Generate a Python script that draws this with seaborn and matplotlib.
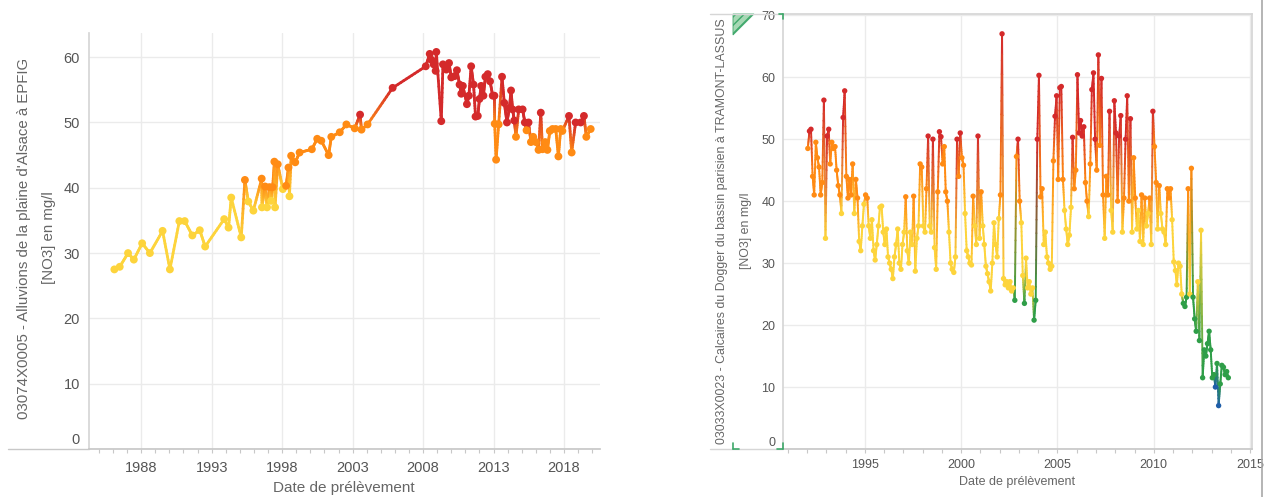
import numpy as np
import pandas as pd
import matplotlib
matplotlib.use("Agg")
import matplotlib.pyplot as plt
import seaborn as sns
from matplotlib.collections import LineCollection
from matplotlib.colors import to_rgb
from matplotlib.lines import Line2D
from matplotlib.patches import Polygon
from matplotlib.ticker import MultipleLocator
from matplotlib.transforms import ScaledTranslation

# station 03074X0005 (EPFIG) : date de prélèvement (année décimale) et [NO3] en mg/l
epfig_annee = [
    1986.10, 1986.48, 1987.07, 1987.48, 1988.07, 1988.62, 1989.52, 1990.04, 1990.71, 1991.09,
    1991.63, 1992.16, 1992.54, 1993.89, 1994.20, 1994.39, 1995.10, 1995.36, 1995.60, 1995.96,
    1996.55, 1996.57, 1996.79, 1996.93, 1997.10, 1997.22, 1997.33, 1997.45, 1997.50, 1997.69,
    1998.05, 1998.28, 1998.45, 1998.52, 1998.64, 1998.93, 1999.24, 2000.11, 2000.49, 2000.78,
    2001.30, 2001.49, 2002.09, 2002.56, 2003.15, 2003.53, 2003.63, 2004.06, 2005.84, 2008.19,
    2008.47, 2008.59, 2008.75, 2008.89, 2008.94, 2009.29, 2009.41, 2009.65, 2009.84, 2010.00,
    2010.24, 2010.40, 2010.59, 2010.71, 2010.82, 2011.11, 2011.25, 2011.41, 2011.58, 2011.72,
    2011.88, 2012.00, 2012.12, 2012.28, 2012.42, 2012.59, 2012.75, 2012.94, 2013.06, 2013.08,
    2013.18, 2013.36, 2013.60, 2013.76, 2013.95, 2014.12, 2014.24, 2014.35, 2014.47, 2014.59,
    2014.78, 2015.06, 2015.22, 2015.34, 2015.48, 2015.65, 2015.81, 2016.00, 2016.19, 2016.35,
    2016.47, 2016.66, 2016.82, 2016.99, 2017.18, 2017.41, 2017.60, 2017.76, 2017.88, 2018.35,
    2018.54, 2018.82, 2019.18, 2019.41, 2019.58, 2019.89,
]
epfig_no3 = [
    27.5, 27.9, 30.0, 29.0, 31.5, 30.0, 33.4, 27.5, 34.9, 34.9,
    32.7, 33.5, 31.0, 35.2, 33.9, 38.5, 32.4, 41.2, 37.9, 36.5,
    41.4, 37.0, 40.2, 37.0, 40.1, 38.0, 40.1, 44.0, 37.0, 43.6,
    39.8, 40.3, 43.1, 38.7, 44.9, 43.9, 45.4, 45.9, 47.5, 47.2,
    45.0, 47.8, 48.5, 49.7, 49.1, 51.2, 48.9, 49.7, 55.3, 58.6,
    60.5, 59.6, 58.9, 57.9, 60.8, 50.2, 58.9, 58.1, 59.1, 56.9,
    57.1, 58.0, 55.8, 54.4, 55.6, 52.8, 54.1, 58.6, 55.8, 50.9,
    51.0, 53.6, 55.6, 54.1, 57.0, 57.4, 56.3, 54.1, 54.1, 49.8,
    44.3, 49.7, 57.0, 53.0, 50.0, 52.2, 54.9, 52.0, 50.3, 47.8,
    52.0, 52.0, 50.0, 48.8, 50.0, 47.0, 47.8, 47.0, 45.8, 51.5,
    45.9, 47.0, 45.8, 48.7, 49.0, 49.0, 44.8, 49.0, 48.7, 51.0,
    45.4, 50.0, 50.0, 51.0, 47.8, 49.0,
]

# station 03033X0023 (TRAMONT-LASSUS) : un prélèvement par mois à partir de janvier 1992
tramont_debut = "1992-01-01"
tramont_no3 = [
    48.5, 51.3, 51.6, 44.0, 41.0, 49.5, 47.0, 45.5, 41.0, 43.0, 56.3, 34.0,  # 1992
    50.5, 51.6, 46.0, 49.5, 48.5, 48.8, 45.0, 42.5, 41.0, 38.0, 53.5, 57.8,  # 1993
    44.0, 40.5, 43.5, 41.0, 46.0, 38.0, 43.5, 40.5, 33.5, 32.0, 36.0, 39.5,  # 1994
    41.0, 40.5, 36.0, 34.0, 37.0, 32.0, 30.5, 33.0, 36.0, 39.0, 39.2, 35.0,  # 1995
    33.0, 35.5, 31.0, 30.0, 29.0, 27.5, 31.0, 33.0, 35.5, 30.0, 29.0, 33.0,  # 1996
    35.0, 40.7, 32.0, 30.0, 35.0, 33.0, 40.8, 28.7, 34.0, 36.0, 46.0, 45.5,  # 1997
    36.0, 35.0, 42.0, 50.5, 36.0, 35.0, 50.0, 32.5, 29.0, 41.5, 51.2, 50.4,  # 1998
    46.0, 48.8, 41.5, 40.0, 35.0, 30.0, 29.0, 28.5, 31.0, 50.0, 44.0, 51.0,  # 1999
    47.0, 45.8, 38.0, 32.0, 31.0, 30.0, 29.7, 40.8, 36.0, 33.0, 50.5, 34.0,  # 2000
    41.5, 36.0, 33.0, 29.5, 28.3, 27.0, 25.5, 30.0, 36.5, 33.0, 31.0, 37.2,  # 2001
    41.0, 67.0, 27.5, 26.5, 27.0, 26.0, 27.0, 25.5, 26.0, 24.0, 47.2, 50.0,  # 2002
    40.0, 36.5, 28.0, 23.5, 30.8, 26.0, 27.0, 25.0, 26.0, 20.8, 24.0, 50.0,  # 2003
    60.3, 40.7, 42.0, 33.0, 35.0, 31.0, 30.0, 29.0, 29.5, 46.5, 53.7, 57.0,  # 2004
    43.5, 58.3, 58.5, 43.5, 38.5, 35.5, 33.0, 34.5, 39.0, 50.3, 42.0, 45.0,  # 2005
    60.4, 51.0, 53.0, 50.5, 52.0, 43.0, 40.0, 37.5, 46.0, 58.0, 60.7, 50.0,  # 2006
    45.0, 63.6, 49.0, 59.8, 41.0, 34.0, 44.0, 41.0, 54.5, 38.5, 35.0, 56.2,  # 2007
    51.0, 40.0, 50.5, 53.8, 35.0, 40.5, 50.0, 57.0, 40.0, 53.3, 35.0, 47.0,  # 2008
    40.5, 35.5, 38.5, 33.5, 41.0, 33.0, 40.5, 36.0, 38.0, 40.5, 33.0, 54.5,  # 2009
    48.8, 43.0, 35.5, 42.5, 38.0, 35.5, 35.0, 33.0, 42.0, 40.5, 42.0, 37.0,  # 2010
    30.2, 28.8, 26.5, 30.0, 29.5, 25.0, 23.5, 23.0, 24.5, 42.0, 25.0, 45.3,  # 2011
    24.5, 21.0, 19.0, 27.0, 17.5, 35.3, 11.5, 16.0, 15.0, 17.0, 19.0, 16.0,  # 2012
    11.5, 12.0, 10.0, 13.8, 7.0, 10.5, 13.5, 13.2, 12.0, 12.5, 11.5,        # 2013
]

epfig_ticks = [1988, 1993, 1998, 2003, 2008, 2013, 2018]
tramont_ticks = [1995, 2000, 2005, 2010, 2015]

couleurs = {"bleu": "#1f5ea8", "vert": "#2f9e48", "jaune": "#fdd43c",
            "orange": "#ff8b14", "rouge": "#d42a2b"}


def niveau(v):
    if v <= 10:
        return "bleu"
    if v < 25:
        return "vert"
    if v < 40:
        return "jaune"
    if v < 50:
        return "orange"
    return "rouge"


def trace(ax, annees, valeurs, lw, taille):
    df = pd.DataFrame({"annee": annees, "no3": valeurs})
    df["niveau"] = df["no3"].map(niveau)
    cols = np.array([to_rgb(couleurs[n]) for n in df["niveau"]])
    x = df["annee"].to_numpy()
    y = df["no3"].to_numpy()
    t = np.linspace(0, 1, 13)
    segs, segcols = [], []
    # segments en dégradé entre deux prélèvements
    for i in range(len(x) - 1):
        pts = np.column_stack([x[i] + (x[i + 1] - x[i]) * t, y[i] + (y[i + 1] - y[i]) * t])
        for k in range(len(t) - 1):
            m = (t[k] + t[k + 1]) / 2
            segs.append(pts[k:k + 2])
            segcols.append(cols[i] * (1 - m) + cols[i + 1] * m)
    ax.add_collection(LineCollection(segs, colors=segcols, linewidths=lw,
                                     capstyle="round", zorder=2))
    sns.scatterplot(data=df, x="annee", y="no3", hue="niveau", palette=couleurs,
                    s=taille, linewidth=0, legend=False, ax=ax, zorder=3)


sns.set_theme(style="white")
plt.rcParams['font.family'] = ['Liberation Sans', 'DejaVu Sans']

W, H = 1267, 497
gris_txt = "#666666"
fig = plt.figure(figsize=(W / 100, H / 100), dpi=100)
ax1 = fig.add_axes([89 / W, 1 - 449 / H, 511 / W, 416 / H])
ax2 = fig.add_axes([783 / W, 1 - 449 / H, 469 / W, 435 / H])

trace(ax1, epfig_annee, epfig_no3, lw=2.0, taille=32)
dates = pd.date_range(tramont_debut, periods=len(tramont_no3), freq="MS") + pd.Timedelta(days=14)
tramont_annee = dates.year + (dates.dayofyear - 1) / 365.25
trace(ax2, tramont_annee, tramont_no3, lw=1.4, taille=15)

ax1.set_xlim(1984.3, 2020.55)
ax1.set_ylim(0, 63.7)
ax1.set_yticks(range(0, 61, 10))
ax1.set_xticks(epfig_ticks)
ax1.set_xticklabels([str(a) for a in epfig_ticks])

ax2.set_xlim(1990.75, 2015.1)
ax2.set_ylim(0, 70.2)
ax2.set_yticks(range(0, 71, 10))
ax2.set_xticks(tramont_ticks)
ax2.set_xticklabels([str(a) for a in tramont_ticks])

for ax, fs_x, fs_y, pad_x, pad_y in [(ax1, 10.5, 10.5, 6, 6.5), (ax2, 9, 9, 4.5, 5.5)]:
    ax.set_xlabel("")
    ax.set_ylabel("")
    ax.grid(True, color="#ebebeb", lw=1)
    ax.set_axisbelow(True)
    ax.xaxis.set_minor_locator(MultipleLocator(1))
    ax.tick_params(axis="x", which="both", bottom=True, length=3, width=0.8,
                   color="#c8c8c8", direction="out")
    ax.tick_params(axis="x", which="major", labelsize=fs_x, labelcolor="#555555", pad=pad_x)
    ax.tick_params(axis="y", length=0, labelsize=fs_y, labelcolor="#555555", pad=pad_y)
    for s in ["top", "right"]:
        ax.spines[s].set_visible(False)
    ax.spines["left"].set_color("#d6d6d6")
    ax.spines["bottom"].set_color("#c8c8c8")

ax2.spines["right"].set_visible(True)
ax2.spines["right"].set_color("#d6d6d6")
ax2.spines["top"].set_visible(True)
ax2.spines["top"].set_color("#d6d6d6")

# le libellé "0" est un peu remonté au-dessus de l'axe
for ax, dy in [(ax1, 10), (ax2, 8)]:
    lab0 = ax.get_yticklabels()[0]
    lab0.set_transform(lab0.get_transform() + ScaledTranslation(0, dy / 100, fig.dpi_scale_trans))

# titres d'axes
fig.text(24 / W, 1 - 238 / H, "03074X0005 - Alluvions de la plaine d'Alsace à EPFIG",
         rotation=90, ha="center", va="center", fontsize=10.8, color=gris_txt)
fig.text(49 / W, 1 - 238 / H, "[NO3] en mg/l", rotation=90, ha="center", va="center",
         fontsize=10.8, color=gris_txt)
fig.text(344 / W, 1 - 488 / H, "Date de prélèvement", ha="center", va="center",
         fontsize=11, color=gris_txt)

fig.text(722 / W, 1 - 231 / H,
         "03033X0023 - Calcaires du Dogger du bassin parisien à TRAMONT-LASSUS",
         rotation=90, ha="center", va="center", fontsize=8.9, color=gris_txt)
fig.text(746 / W, 1 - 231 / H, "[NO3] en mg/l", rotation=90, ha="center", va="center",
         fontsize=8.9, color=gris_txt)
fig.text(1017 / W, 1 - 482 / H, "Date de prélèvement", ha="center", va="center",
         fontsize=9, color=gris_txt)

# cadres et repères autour des graphiques
def trait(x0, y0, x1, y1, c, lw=1.0):
    fig.add_artist(Line2D([x0 / W, x1 / W], [1 - y0 / H, 1 - y1 / H], color=c, lw=lw))

trait(8, 449, 89, 449, "#c8c8c8")
trait(710, 14, 783, 14, "#d6d6d6")
trait(710, 449, 783, 449, "#d6d6d6")
trait(1262, 0, 1262, 497, "#a8a8a8", lw=1.2)

vert = "#3ea86a"
fig.add_artist(Polygon([(733 / W, 1 - 14 / H), (754 / W, 1 - 14 / H), (733 / W, 1 - 35 / H)],
                       closed=True, facecolor="#a6d8b4", edgecolor=vert, hatch="////", lw=0.6))
trait(733, 443, 733, 449, vert, 1.2)
trait(733, 449, 739, 449, vert, 1.2)
trait(777, 449, 783, 449, vert, 1.2)
trait(783, 443, 783, 449, vert, 1.2)
trait(779, 14, 783, 14, vert, 1.2)
trait(783, 14, 783, 19, vert, 1.2)

plt.savefig("out.png", dpi=100)
